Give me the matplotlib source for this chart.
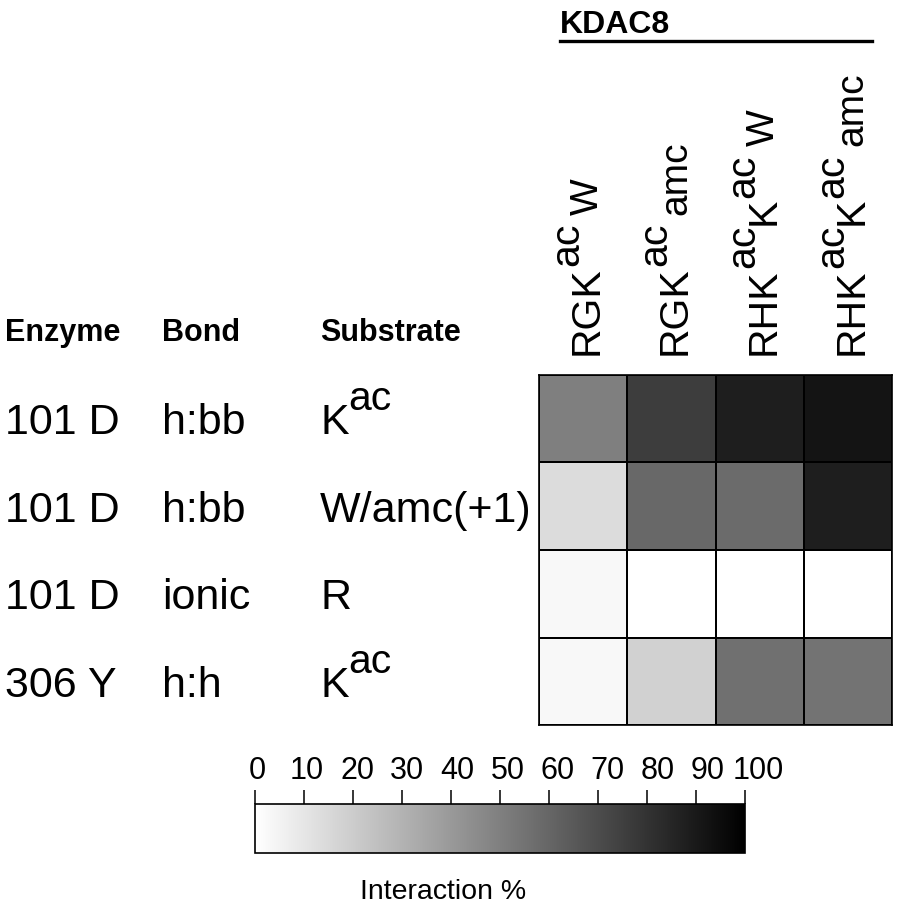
import matplotlib
matplotlib.use("Agg")
import matplotlib.pyplot as plt
import numpy as np
from matplotlib import transforms
from matplotlib.font_manager import FontProperties
from matplotlib.cm import ScalarMappable
from matplotlib.colors import Normalize

plt.rcParams['font.family'] = ['Liberation Sans', 'DejaVu Sans']

# ---------------- data ----------------
col_labels = [
    [("RGK", "b"), ("ac", "sup"), ("W", "sub")],
    [("RGK", "b"), ("ac", "sup"), ("amc", "sub")],
    [("RHK", "b"), ("ac", "sup"), ("K", "b"), ("ac", "sup"), ("W", "sub")],
    [("RHK", "b"), ("ac", "sup"), ("K", "b"), ("ac", "sup"), ("amc", "sub")],
]
enzymes = ["101 D", "101 D", "101 D", "306 Y"]
bonds = ["h:bb", "h:bb", "ionic", "h:h"]
substrates = [
    [("K", "b"), ("ac", "sup")],
    [("W/amc(+1)", "b")],
    [("R", "b")],
    [("K", "b"), ("ac", "sup")],
]
headers = ["Enzyme", "Bond", "Substrate"]
group_label = "KDAC8"
values = np.array([
    [50, 76, 88, 92],
    [14, 59, 58, 88],
    [3, 0, 0, 0],
    [3, 18, 56, 55],
])
cbar_ticks = list(range(0, 101, 10))
cbar_label = "Interaction %"

# ---------------- figure ----------------
W, H = 900, 910
fig = plt.figure(figsize=(W / 100, H / 100), dpi=100)
renderer = fig.canvas.get_renderer()

ax = fig.add_axes([539 / W, 1 - 725 / H, (892 - 539) / W, (725 - 375) / H])
ax.pcolormesh(values, cmap='gray_r', vmin=0, vmax=100,
              edgecolors='black', linewidth=1.2)
ax.set_xlim(0, 4)
ax.set_ylim(4, 0)
ax.set_xticks([])
ax.set_yticks([])
for s in ax.spines.values():
    s.set_linewidth(1.2)
    s.set_color('black')


def rich(x, y, trans, pieces, size, rotation=0, sup_rise=0.5, sub_gap=0.2,
         sup_scale=1.0, sub_scale=0.95):
    adv = 0.0
    prev = None
    for txt, kind in pieces:
        if kind == 'sup':
            s = size * sup_scale
            rise = size * sup_rise
        elif kind == 'sub':
            s = size * sub_scale
            rise = 0.0
        else:
            s = size
            rise = 0.0
        if kind == 'sub' and prev == 'sup':
            adv += size * sub_gap
        fp = FontProperties(family='Liberation Sans', size=s)
        w, h, d = renderer.get_text_width_height_descent(txt, fp, ismath=False)
        w_pt = w * 72 / fig.dpi
        if rotation == 90:
            dx, dy = -rise, adv
        else:
            dx, dy = adv, rise
        t = trans + transforms.ScaledTranslation(dx / 72, dy / 72, fig.dpi_scale_trans)
        fig.text(x, y, txt, transform=t, fontproperties=fp, rotation=rotation,
                 ha='left', va='baseline', rotation_mode='anchor')
        adv += w_pt
        prev = kind


# column labels (rotated)
COL_SIZE = 29.5
cap_col = 0.716 * COL_SIZE
for j, pieces in enumerate(col_labels):
    tr = transforms.blended_transform_factory(ax.transData, ax.transAxes)
    tr = tr + transforms.ScaledTranslation(cap_col / 2 / 72, 20 / 100, fig.dpi_scale_trans)
    rich(j + 0.5, 1.0, tr, pieces, COL_SIZE, rotation=90, sup_rise=0.48, sub_gap=0.2)

# row labels
ROW_SIZE = 31
cap_row = 0.716 * ROW_SIZE
row_tr = transforms.blended_transform_factory(fig.transFigure, ax.transData)
row_tr = row_tr + transforms.ScaledTranslation(0, -cap_row / 2 / 72, fig.dpi_scale_trans)
col_x = [5 / W, 162 / W, 320 / W]
for i in range(len(enzymes)):
    rich(col_x[0], i + 0.5, row_tr, [(enzymes[i], 'b')], ROW_SIZE)
    rich(col_x[1], i + 0.5, row_tr, [(bonds[i], 'b')], ROW_SIZE)
    rich(col_x[2], i + 0.5, row_tr, substrates[i], ROW_SIZE, sup_rise=0.55,
         sup_scale=0.95)

# headers
for xh, txt in zip(col_x, headers):
    fig.text(xh, 1 - 341 / H, txt, fontsize=22, fontweight='bold',
             ha='left', va='baseline')

# KDAC8 group label and line
fig.text(560 / W, 1 - 33 / H, group_label, fontsize=23, fontweight='bold',
         ha='left', va='baseline')
fig.add_artist(plt.Line2D([560 / W, 872 / W], [1 - 41 / H, 1 - 41 / H],
                          transform=fig.transFigure, color='black', lw=2.4))

# colorbar
cax = fig.add_axes([255 / W, 1 - 853 / H, 490 / W, 49 / H])
sm = ScalarMappable(norm=Normalize(0, 100), cmap='gray_r')
cb = fig.colorbar(sm, cax=cax, orientation='horizontal', ticks=cbar_ticks)
cax.xaxis.set_ticks_position('top')
cax.xaxis.set_label_position('top')
cax.tick_params(axis='x', direction='out', length=10, width=1.1, labelsize=22,
                pad=3, color='black')
cb.outline.set_linewidth(1.2)
cb.outline.set_edgecolor('black')
# labels in the reference spread slightly wider than their ticks
fig.canvas.draw()
for v, lab in zip(cbar_ticks, cax.get_xticklabels()):
    shift_px = 2 + 0.11 * v
    lab.set_transform(lab.get_transform() +
                      transforms.ScaledTranslation(shift_px / 100, 0, fig.dpi_scale_trans))
fig.text(443 / W, 1 - 892 / H, cbar_label, fontsize=20.5, ha='center', va='center')

fig.savefig("out.png", dpi=100)
